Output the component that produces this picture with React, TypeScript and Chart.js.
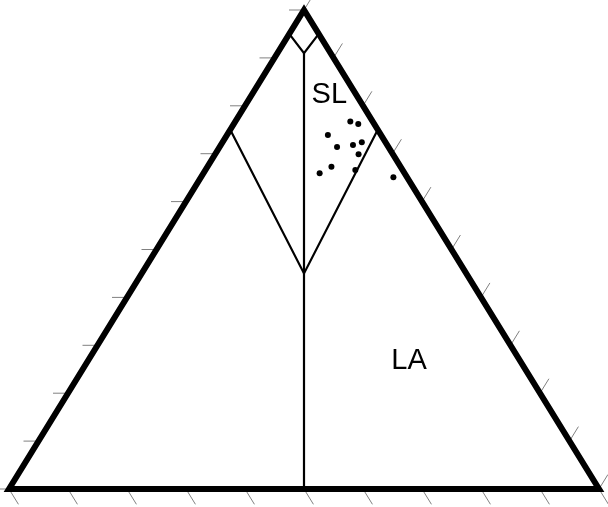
import React, { useEffect, useRef } from "react";
import { Chart, registerables } from "chart.js";

Chart.register(...registerables);

// Ternary compositions in percent: top apex, right apex (left = 100 - top - right)
const dotsTop = [76.7, 76.2, 73.9, 71.4, 71.8, 72.4, 69.9, 67.3, 65.9, 66.6, 65.1];
const dotsRight = [19.5, 21.1, 17.1, 19.9, 22.4, 23.6, 24.3, 21.0, 19.7, 25.4, 32.6];

// Field boundaries (top %, right %)
const capTop = [95, 91, 95];
const capRight = [0, 4.5, 5];
const stemTop = [91, 0];
const stemRight = [4.5, 50];
const vTop = [75, 45, 75];
const vRight = [0, 27.5, 25];

// Tick fractions along each edge
const tickSteps = [0, 10, 20, 30, 40, 50, 60, 70, 80, 90, 100];

// Field labels
const labelText = ["SL", "LA"];
const labelTop = [80.6, 25.05];
const labelRight = [13.99, 55.27];

const toXY = (top: number, right: number) => ({ x: right / 100 + top / 200, y: top / 100 });
const seq = (tops: number[], rights: number[]) => tops.map((t, i) => toXY(t, rights[i]));

const ternaryPlugin = {
  id: "ternaryExtras",
  beforeDatasetsDraw(chart: any) {
    const { ctx, scales } = chart;
    const xs = scales.x, ys = scales.y;
    const px = (p: { x: number; y: number }) => [xs.getPixelForValue(p.x), ys.getPixelForValue(p.y)];
    const [blx, bly] = px(toXY(0, 0));
    const [brx, bry] = px(toXY(0, 100));
    const [apx, apy] = px(toXY(100, 0));
    const norm = (dx: number, dy: number) => {
      const l = Math.hypot(dx, dy);
      return [dx / l, dy / l];
    };
    const dirBottom = norm(brx - apx, bry - apy); // parallel to right edge, down-right
    const dirRight = norm(apx - blx, apy - bly); // parallel to left edge, up-right
    ctx.save();
    ctx.strokeStyle = "#808080";
    ctx.lineWidth = 1;
    ctx.beginPath();
    tickSteps.forEach((s) => {
      const [lx, ly] = px(toXY(s, 0));
      ctx.moveTo(lx, ly);
      ctx.lineTo(lx - 15, ly);
      const [bx, by] = px(toXY(0, s));
      ctx.moveTo(bx, by);
      ctx.lineTo(bx + dirBottom[0] * 18, by + dirBottom[1] * 18);
      const [rx, ry] = px(toXY(s, 100 - s));
      ctx.moveTo(rx, ry);
      ctx.lineTo(rx + dirRight[0] * 17, ry + dirRight[1] * 17);
    });
    ctx.stroke();
    ctx.restore();
  },
  afterDatasetsDraw(chart: any) {
    const { ctx, scales } = chart;
    ctx.save();
    ctx.fillStyle = "#000";
    ctx.font = "29px 'Liberation Sans', Arial, sans-serif";
    ctx.textAlign = "center";
    ctx.textBaseline = "alphabetic";
    labelText.forEach((t, i) => {
      const p = toXY(labelTop[i], labelRight[i]);
      ctx.fillText(t, scales.x.getPixelForValue(p.x), scales.y.getPixelForValue(p.y));
    });
    ctx.restore();
  },
};

export default function App() {
  const ref = useRef<HTMLCanvasElement | null>(null);
  useEffect(() => {
    if (!ref.current) return;
    const outline = [toXY(0, 0), toXY(0, 100), toXY(100, 0), toXY(0, 0), toXY(0, 100)];
    const lineDs = (data: any[], w: number) => ({
      type: "scatter" as const,
      data,
      showLine: true,
      borderColor: "#000",
      borderWidth: w,
      borderJoinStyle: "miter" as const,
      pointRadius: 0,
      pointHoverRadius: 0,
      clip: false as any,
      tension: 0,
    });
    const chart = new Chart(ref.current, {
      type: "scatter",
      data: {
        datasets: [
          lineDs(seq(capTop, capRight), 2.2),
          lineDs(seq(stemTop, stemRight), 2.2),
          lineDs(seq(vTop, vRight), 2.2),
          lineDs(outline, 6),
          {
            data: seq(dotsTop, dotsRight),
            showLine: false,
            pointRadius: 3,
            pointBackgroundColor: "#000",
            pointBorderColor: "#000",
            pointBorderWidth: 0,
            clip: false as any,
          },
        ],
      },
      options: {
        responsive: false,
        animation: false,
        events: [],
        layout: { padding: { left: 9, right: 9, top: 10, bottom: 18 } },
        plugins: { legend: { display: false }, tooltip: { enabled: false } },
        scales: {
          x: { type: "linear", min: 0, max: 1, display: false },
          y: { type: "linear", min: 0, max: 1, display: false },
        },
      },
      plugins: [ternaryPlugin],
    });
    return () => chart.destroy();
  }, []);
  return (
    <div style={{ position: "absolute", left: 0, top: 0, width: 608, height: 507, background: "#fff" }}>
      <canvas ref={ref} width={608} height={507} style={{ width: 608, height: 507, display: "block" }} />
    </div>
  );
}
